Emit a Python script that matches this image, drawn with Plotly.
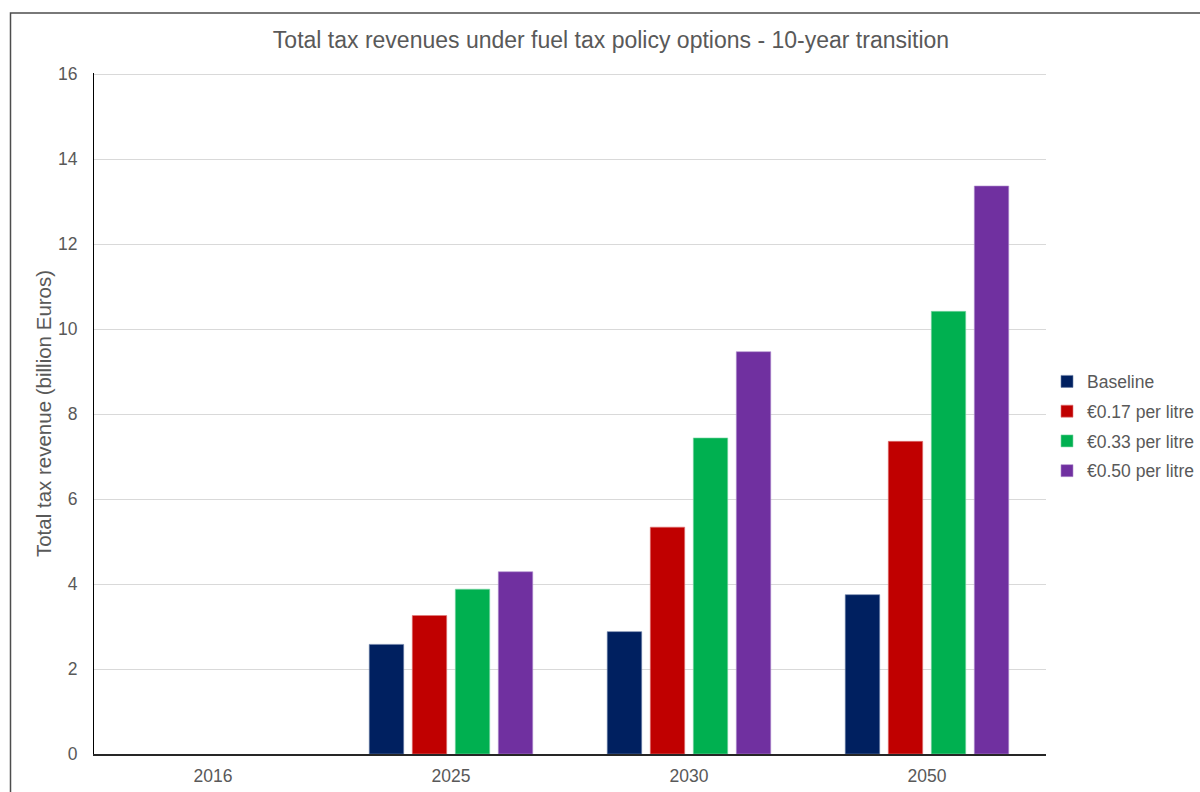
import plotly.graph_objects as go

years = ["2016", "2025", "2030", "2050"]
series_names = ["Baseline", "€0.17 per litre", "€0.33 per litre", "€0.50 per litre"]
baseline = [None, 2.58, 2.88, 3.75]
tax_017 = [None, 3.26, 5.34, 7.36]
tax_033 = [None, 3.88, 7.44, 10.42]
tax_050 = [None, 4.29, 9.47, 13.37]
y_ticks = [0, 2, 4, 6, 8, 10, 12, 14, 16]

colors = ["#002060", "#C00000", "#00B050", "#7030A0"]
edge_colors = ["#6a7fa8", "#e07a7a", "#7fd7a7", "#b08fcf"]

W, H = 1200, 792
L, R, T, B = 94, 1046, 73, 754

fig = go.Figure()
for i, (name, vals) in enumerate(zip(series_names, [baseline, tax_017, tax_033, tax_050])):
    fig.add_trace(go.Bar(
        x=years, y=vals, name=name,
        marker=dict(color=colors[i], line=dict(color=edge_colors[i], width=0.6)),
        legendgroup=f"g{i}",
    ))

font_family = "Liberation Sans, Arial, sans-serif"
grey = "#595959"

def px_x(px):
    return (px - L) / (R - L)

def px_y(py):
    return (B - py) / (B - T)

fig.update_layout(
    width=W, height=H,
    margin=dict(l=L, r=W - R, t=T, b=H - B, pad=0, autoexpand=False),
    paper_bgcolor="white", plot_bgcolor="white",
    font=dict(family=font_family, color=grey, size=17),
    barmode="group", bargap=0.277, bargroupgap=0.2,
    title=dict(
        text="Total tax revenues under fuel tax policy options - 10-year transition",
        font=dict(size=23, color=grey, family=font_family),
        x=px_x(611), xref="paper", xanchor="center",
        y=1 - 40 / H, yref="container", yanchor="middle",
    ),
    xaxis=dict(
        showgrid=False, showline=True, linecolor="#262626", linewidth=1.5,
        ticks="", ticklabelstandoff=5, tickfont=dict(size=17.5, color=grey),
        automargin=False, fixedrange=True,
    ),
    yaxis=dict(
        range=[0, 16.03], tickvals=y_ticks, showgrid=True, gridcolor="#d9d9d9", gridwidth=1,
        showline=True, linecolor="#000000", linewidth=1, zeroline=False,
        ticks="", ticklabelstandoff=12, tickfont=dict(size=17.5, color=grey),
        title=dict(text="Total tax revenue (billion Euros)", font=dict(size=20.5, color=grey), standoff=0),
        automargin=False,
    ),
    legend=dict(
        x=px_x(1047), xanchor="left", y=px_y(426), yanchor="middle",
        font=dict(size=17.5, color=grey), tracegroupgap=4, traceorder="grouped",
        itemwidth=30, bgcolor="rgba(0,0,0,0)",
    ),
    showlegend=True,
    shapes=[dict(
        type="rect", xref="paper", yref="paper",
        x0=px_x(10.5), x1=px_x(1215), y0=px_y(810), y1=px_y(13),
        line=dict(color="#4d4d4d", width=1.5), fillcolor="rgba(0,0,0,0)", layer="above",
    )],
)

fig.write_html("out.html")
